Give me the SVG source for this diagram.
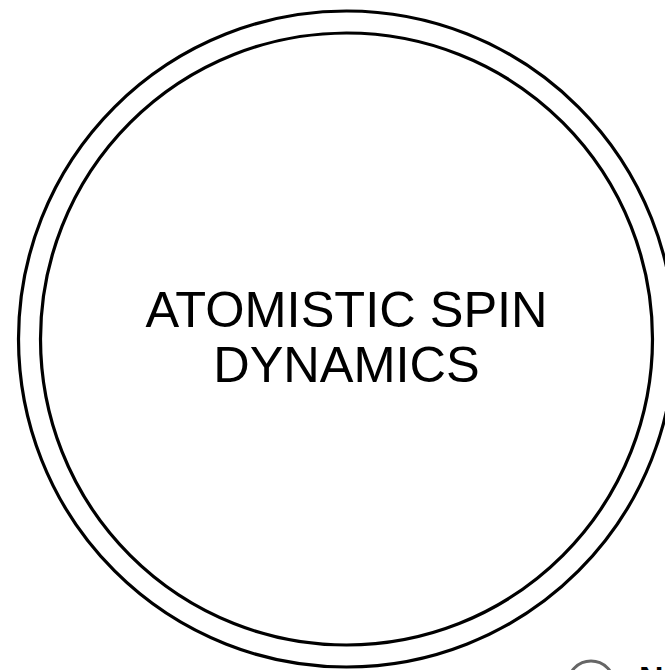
<svg xmlns="http://www.w3.org/2000/svg" width="665" height="670" viewBox="0 0 665 670">
  <style>
    .ring { fill: none; stroke: #000; stroke-width: 3.2; }
    .label { font-family: "Liberation Sans", Arial, sans-serif; font-size: 50.5px; fill: #000; text-anchor: middle; }
    .icon { fill: none; stroke: #666; stroke-width: 3; }
    .cut { font-family: "Liberation Sans", Arial, sans-serif; font-weight: bold; font-size: 34px; fill: #000; }
  </style>
  <rect width="665" height="670" fill="#fff"/>
  <g id="node-asd">
    <circle class="ring" cx="346.5" cy="339" r="328"/>
    <circle class="ring" cx="346.5" cy="339" r="306"/>
    <text class="label" x="346.5" y="327">ATOMISTIC SPIN</text>
    <text class="label" x="346.5" y="382">DYNAMICS</text>
  </g>
  <g id="node-partial">
    <circle class="icon" cx="591" cy="684" r="23"/>
    <text class="cut" x="639" y="690">N</text>
  </g>
  <g id="connectors"></g>
</svg>
